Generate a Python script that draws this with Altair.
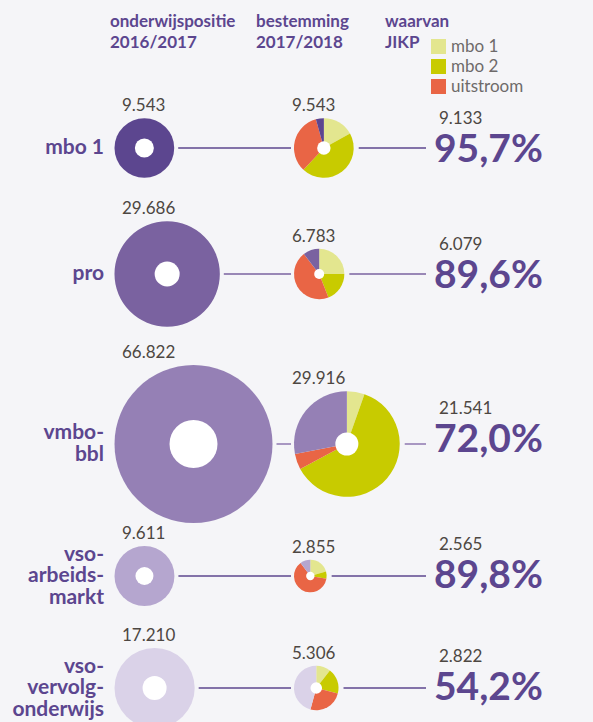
import math
import altair as alt
import pandas as pd

# ---------------- data ----------------
categories = ["mbo 1", "pro", "vmbo-bbl", "vso-arbeidsmarkt", "vso-vervolgonderwijs"]
category_lines = ["mbo 1", "pro", "vmbo-\nbbl", "vso-\narbeids-\nmarkt", "vso-\nvervolg-\nonderwijs"]
onderwijspositie_2016 = [9543, 29686, 66822, 9611, 17210]
bestemming_2017 = [9543, 6783, 29916, 2855, 5306]
waarvan_jikp = [9133, 6079, 21541, 2565, 2822]
pct_jikp = [95.7, 89.6, 72.0, 89.8, 54.2]
pct_mbo1 = [17.0, 25.0, 5.4, 20.6, 10.5]
pct_mbo2 = [45.0, 19.0, 61.8, 7.2, 18.5]
pct_uitstroom = [33.7, 45.6, 4.8, 62.0, 25.2]
segments = ["mbo 1", "mbo 2", "uitstroom"]
headers = ["onderwijspositie\n2016/2017", "bestemming\n2017/2018", "waarvan\nJIKP"]

# ---------------- layout / style ----------------
row_y = [148, 274, 444, 576, 688]
right_dy = [0, 0, -6, -2, -2]
row_colors = ["#5c468f", "#7a62a0", "#9580b5", "#b5a6cf", "#dad2e8"]
line_colors = ["#5c468f", "#7a62a0", "#9580b5", "#5c468f", "#5c468f"]
hole_left = [9.5, 12.5, 24, 9, 12]
hole_pie = [6.7, 5, 11.5, 4.2, 5.8]
seg_colors = ["#e3e68f", "#c8cb00", "#e96545"]
header_x = [110, 256, 385]
PURPLE = "#5c468f"
NUMCOL = "#4d4742"
R_MAX = 79
V_MAX = max(onderwijspositie_2016)
LEFT_X = 114.5
MID_X = 294
FONT = "Lato"
LABEL_LH = 21.5


def nl_int(v):
    return f"{v:,}".replace(",", ".")


def nl_pct(p):
    return f"{p:.1f}".replace(".", ",") + "%"


rows = pd.DataFrame({
    "cat": categories,
    "lines": category_lines,
    "pos": onderwijspositie_2016,
    "best": bestemming_2017,
    "jikp": waarvan_jikp,
    "pct": pct_jikp,
    "y": row_y,
    "rdy": right_dy,
    "color": row_colors,
    "lcolor": line_colors,
    "hl": hole_left,
    "hp": hole_pie,
})
rows["nlines"] = [s.count("\n") + 1 for s in category_lines]
rows["pos_label"] = [nl_int(v) for v in onderwijspositie_2016]
rows["best_label"] = [nl_int(v) for v in bestemming_2017]
rows["jikp_label"] = [nl_int(v) for v in waarvan_jikp]
rows["pct_label"] = [nl_pct(p) for p in pct_jikp]

pie_records = []
for i, c in enumerate(categories):
    parts = [pct_mbo1[i], pct_mbo2[i], pct_uitstroom[i]]
    names = segments + ["overig " + c]
    vals = parts + [100 - sum(parts)]
    start = 0.0
    for n, v in zip(names, vals):
        pie_records.append({"cat": c, "seg": n, "start": start, "end": start + v,
                            "best": bestemming_2017[i], "y": row_y[i]})
        start += v
pie = pd.DataFrame(pie_records)

color_domain = segments + ["overig " + c for c in categories]
color_range = seg_colors + row_colors

xs = alt.Scale(domain=[0, 593], nice=False, zero=False)
ys = alt.Scale(domain=[0, 722], reverse=True, nice=False, zero=False)
rs = alt.Scale(type="sqrt", domain=[0, V_MAX], range=[0, R_MAX])

calc = dict(
    rl=f"{R_MAX}*sqrt(datum.pos/{V_MAX})",
    rp=f"{R_MAX}*sqrt(datum.best/{V_MAX})",
)

base = alt.Chart(rows).transform_calculate(**calc).transform_calculate(
    cxl=f"{LEFT_X} + datum.rl",
    cxp=f"{MID_X} + datum.rp",
    l1a="datum.cxl + datum.rl + 4",
    l1b=f"{MID_X - 3}",
    l2a="datum.cxp + datum.rp + 5",
    l2b="426",
    ylab_l="datum.y - datum.rl - 7",
    ylab_p="datum.y - datum.rp - 7",
    ylab_j="datum.y + datum.rdy - 24",
    ylab_pct="datum.y + datum.rdy + 14",
    ylab_row=f"datum.y - (datum.nlines - 1) * {LABEL_LH / 2}",
    hole_l_size="pow(2*datum.hl, 2)",
    hole_p_size="pow(2*datum.hp, 2)",
)

Y = alt.Y("y:Q", scale=ys, axis=None)

left_circles = base.mark_arc(theta=0, theta2=2 * math.pi).encode(
    x=alt.X("cxl:Q", scale=xs, axis=None), y=Y,
    radius=alt.Radius("pos:Q", scale=rs, stack=None),
    fill=alt.Fill("color:N", scale=None),
)
left_holes = base.mark_circle(color="white", opacity=1, strokeWidth=0).encode(
    x=alt.X("cxl:Q", scale=xs, axis=None), y=Y,
    size=alt.Size("hole_l_size:Q", scale=None),
)

pies = alt.Chart(pie).transform_calculate(
    rp=f"{R_MAX}*sqrt(datum.best/{V_MAX})"
).transform_calculate(cxp=f"{MID_X} + datum.rp").mark_arc().encode(
    x=alt.X("cxp:Q", scale=xs, axis=None), y=Y,
    radius=alt.Radius("best:Q", scale=rs, stack=None),
    theta=alt.Theta("start:Q", scale=alt.Scale(domain=[0, 100], range=[0, 2 * math.pi]), stack=None),
    theta2="end:Q",
    color=alt.Color("seg:N", scale=alt.Scale(domain=color_domain, range=color_range),
                    legend=alt.Legend(orient="none", legendX=430, legendY=38, title=None,
                                      values=segments, symbolType="square", symbolSize=225,
                                      symbolStrokeWidth=0, labelFont=FONT, labelFontSize=17,
                                      labelColor="#6e6a6a", labelOffset=4, rowPadding=2,
                                      padding=0)),
)
pie_holes = base.mark_circle(color="white", opacity=1, strokeWidth=0).encode(
    x=alt.X("cxp:Q", scale=xs, axis=None), y=Y,
    size=alt.Size("hole_p_size:Q", scale=None),
)

line_left = base.mark_rule(strokeWidth=1.6).encode(
    x=alt.X("l1a:Q", scale=xs, axis=None), x2="l1b:Q", y=Y,
    stroke=alt.Stroke("lcolor:N", scale=None),
)
line_right = base.mark_rule(strokeWidth=1.6).encode(
    x=alt.X("l2a:Q", scale=xs, axis=None), x2="l2b:Q", y=Y,
    stroke=alt.Stroke("lcolor:N", scale=None),
)

row_labels = base.mark_text(align="right", baseline="middle", lineBreak="\n", font=FONT,
                            fontWeight="bold", fontSize=21, lineHeight=LABEL_LH,
                            color=PURPLE).encode(
    x=alt.value(104), y=alt.Y("ylab_row:Q", scale=ys, axis=None), text="lines:N")

num_style = dict(align="left", baseline="alphabetic", font=FONT, fontSize=17, color=NUMCOL)
lab_left = base.mark_text(**num_style).encode(
    x=alt.value(122), y=alt.Y("ylab_l:Q", scale=ys, axis=None), text="pos_label:N")
lab_mid = base.mark_text(**num_style).encode(
    x=alt.value(292), y=alt.Y("ylab_p:Q", scale=ys, axis=None), text="best_label:N")
lab_jikp = base.mark_text(**num_style).encode(
    x=alt.value(439), y=alt.Y("ylab_j:Q", scale=ys, axis=None), text="jikp_label:N")
lab_pct = base.mark_text(align="left", baseline="alphabetic", font=FONT, fontSize=39,
                         fontWeight="bold", color=PURPLE).encode(
    x=alt.value(434), y=alt.Y("ylab_pct:Q", scale=ys, axis=None), text="pct_label:N")

hdr = pd.DataFrame({"h": headers, "hx": header_x, "hy": [27] * 3})
header_text = alt.Chart(hdr).mark_text(align="left", baseline="alphabetic", lineBreak="\n",
                                       font=FONT, fontWeight="bold", fontSize=17,
                                       lineHeight=21, color=PURPLE).encode(
    x=alt.X("hx:Q", scale=xs, axis=None), y=alt.Y("hy:Q", scale=ys, axis=None), text="h:N")

chart = alt.layer(
    line_left, line_right, left_circles, left_holes, pies, pie_holes,
    row_labels, lab_left, lab_mid, lab_jikp, lab_pct, header_text,
).properties(
    width=593, height=722, autosize=alt.AutoSizeParams(type="none"), padding=0,
    background="#f5f5f8",
).configure_view(stroke=None)

chart.save("out.html", embed_options={"renderer": "svg", "actions": False})
